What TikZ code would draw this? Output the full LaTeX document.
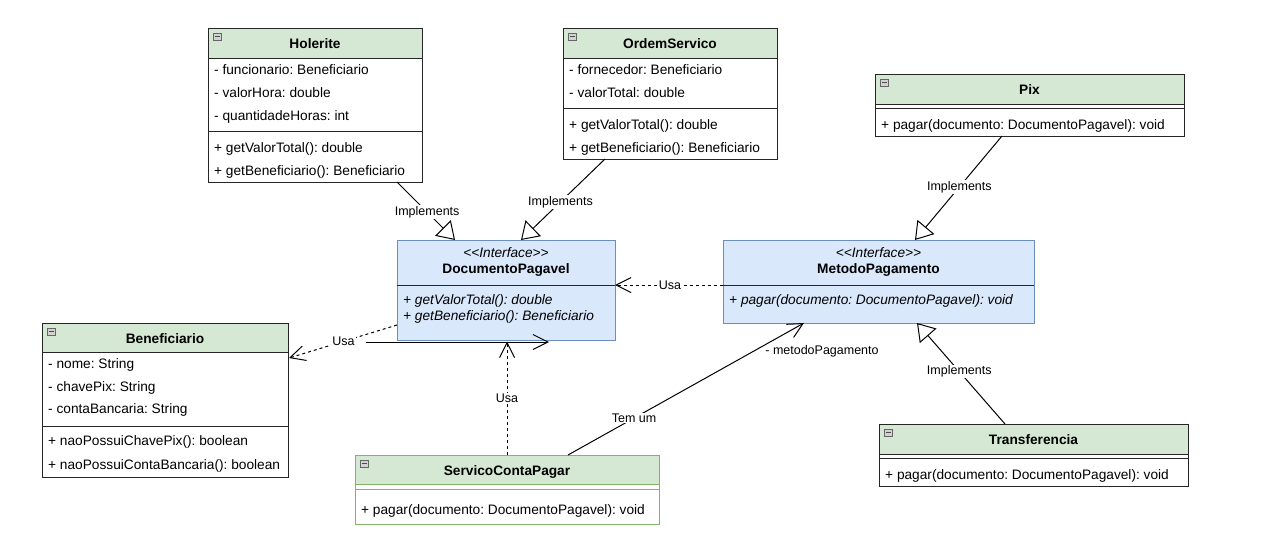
\documentclass[tikz,border=0pt]{standalone}
\usepackage{fontspec}
\setmainfont{Liberation Sans}
\usetikzlibrary{arrows.meta,calc}
\definecolor{hdrgreen}{HTML}{D5E8D4}
\definecolor{grnborder}{HTML}{82B366}
\definecolor{ifblue}{HTML}{DAE8FC}
\definecolor{ifborder}{HTML}{6C8EBF}
\newcommand{\colicon}[2]{%
  \draw[draw=gray!80!black, fill=gray!35, line width=0.8pt] (#1+5,#2+5) rectangle (#1+13.5,#2+12.5);
  \draw[gray!60!black, line width=1pt] (#1+6.5,#2+8.75) -- (#1+12,#2+8.75);}
\frenchspacing
\begin{document}
\begin{tikzpicture}[x=1pt,y=-1pt,
 box/.style={draw=black!85, line width=1pt, inner sep=0pt, outer sep=0pt, anchor=north west},
 txt/.style={anchor=west, inner sep=0pt, text height=10pt, text depth=1pt, font=\fontsize{13.7}{16}\selectfont},
 itxt/.style={txt, font=\fontsize{13.7}{16}\selectfont\itshape},
 ttl/.style={anchor=center, inner sep=0pt, text height=10pt, text depth=1pt, font=\fontsize{13.7}{16}\selectfont\bfseries},
 stereo/.style={anchor=center, inner sep=0pt, text height=10pt, text depth=1pt, font=\fontsize{13.7}{16}\selectfont\itshape},
 lbl/.style={fill=white, inner sep=1pt, font=\fontsize{12.5}{15}\selectfont},
 plainlbl/.style={inner sep=1pt, font=\fontsize{12.5}{15}\selectfont},
 sepline/.style={draw=black!85, line width=1pt},
 impl/.style={draw=black, line width=1pt, -{Triangle[open, length=17pt, width=22pt]}},
 usa/.style={draw=black, line width=1pt, dash pattern=on 3pt off 3pt, -{Straight Barb[length=15pt,width=15pt]}},
 assoc/.style={draw=black, line width=1pt, -{Straight Barb[length=15pt,width=15pt]}},
]
\fill[white] (0,0) rectangle (1270,547);
\useasboundingbox (0,0) rectangle (1270,547);

% ---------- Holerite ----------
\fill[hdrgreen] (208,28) rectangle (422,58);
\draw[sepline] (208,58) -- (422,58);
\draw[sepline] (208,131) -- (422,131);
\node[box, minimum width=214pt, minimum height=154pt] (hol) at (208,28) {};
\colicon{208}{28}
\node[ttl] (holT) at (315,43.5) {Holerite};
\node[txt] (hol1) at (214,69.5) {- funcionario: Beneficiario};
\node[txt] (hol2) at (214,92.5) {- valorHora: double};
\node[txt] (hol3) at (214,115.5) {- quantidadeHoras: int};
\node[txt] (hol4) at (214,147.5) {+ getValorTotal(): double};
\node[txt] (hol5) at (214,170.5) {+ getBeneficiario(): Beneficiario};

% ---------- OrdemServico ----------
\fill[hdrgreen] (563,28) rectangle (777,58);
\draw[sepline] (563,58) -- (777,58);
\draw[sepline] (563,108) -- (777,108);
\node[box, minimum width=214pt, minimum height=131pt] (os) at (563,28) {};
\colicon{563}{28}
\node[ttl] (osT) at (670,43.5) {OrdemServico};
\node[txt] (os1) at (569,69.5) {- fornecedor: Beneficiario};
\node[txt] (os2) at (569,92.5) {- valorTotal: double};
\node[txt] (os3) at (569,124.5) {+ getValorTotal(): double};
\node[txt] (os4) at (569,147.5) {+ getBeneficiario(): Beneficiario};

% ---------- Pix ----------
\fill[hdrgreen] (875,74) rectangle (1184,104);
\draw[sepline] (875,104) -- (1184,104);
\draw[sepline] (875,108) -- (1184,108);
\node[box, minimum width=309pt, minimum height=62pt] (pix) at (875,74) {};
\colicon{875}{74}
\node[ttl] (pixT) at (1029.5,89.5) {Pix};
\node[txt] (pix1) at (881,124.5) {+ pagar(documento: DocumentoPagavel): void};

% ---------- DocumentoPagavel ----------
\node[box, draw=ifborder, fill=ifblue, minimum width=218pt, minimum height=100pt] (dp) at (397,240) {};
\draw[sepline] (397,285) -- (615,285);
\node[stereo] (dpS) at (506,252.5) {<{}<Interface>{}>};
\node[ttl] (dpT) at (506,268.5) {DocumentoPagavel};
\node[itxt] (dp1) at (403,300) {+ getValorTotal(): double};
\node[itxt] (dp2) at (403,316) {+ getBeneficiario(): Beneficiario};

% ---------- MetodoPagamento ----------
\node[box, draw=ifborder, fill=ifblue, minimum width=311pt, minimum height=83pt] (mp) at (723,240) {};
\draw[sepline] (723,285) -- (1034,285);
\node[stereo] (mpS) at (878.5,252.5) {<{}<Interface>{}>};
\node[ttl] (mpT) at (878.5,268.5) {MetodoPagamento};
\node[itxt] (mp1) at (729,300) {+ pagar(documento: DocumentoPagavel): void};

% ---------- Beneficiario ----------
\fill[hdrgreen] (42,323) rectangle (288,352);
\draw[sepline] (42,352) -- (288,352);
\draw[sepline] (42,426) -- (288,426);
\node[box, minimum width=246pt, minimum height=154pt] (ben) at (42,323) {};
\colicon{42}{323}
\node[ttl] (benT) at (165,338.5) {Beneficiario};
\node[txt] (ben1) at (48,363.5) {- nome: String};
\node[txt] (ben2) at (48,386.5) {- chavePix: String};
\node[txt] (ben3) at (48,409) {- contaBancaria: String};
\node[txt] (ben4) at (48,441) {+ naoPossuiChavePix(): boolean};
\node[txt] (ben5) at (48,464.5) {+ naoPossuiContaBancaria(): boolean};

% ---------- ServicoContaPagar ----------
\fill[hdrgreen] (355,455) rectangle (659,484);
\draw[draw=grnborder, line width=1pt] (355,484) -- (659,484);
\draw[draw=grnborder, line width=1pt] (355,489) -- (659,489);
\node[box, draw=grnborder, minimum width=304pt, minimum height=69pt] (scp) at (355,455) {};
\colicon{355}{455}
\node[ttl] (scpT) at (507,470.5) {ServicoContaPagar};
\node[txt] (scp1) at (361,509.5) {+ pagar(documento: DocumentoPagavel): void};

% ---------- Transferencia ----------
\fill[hdrgreen] (879,424) rectangle (1188,454);
\draw[sepline] (879,454) -- (1188,454);
\draw[sepline] (879,458) -- (1188,458);
\node[box, minimum width=309pt, minimum height=62pt] (tr) at (879,424) {};
\colicon{879}{424}
\node[ttl] (trT) at (1033.5,439.5) {Transferencia};
\node[txt] (tr1) at (885,474.5) {+ pagar(documento: DocumentoPagavel): void};

% ---------- Connectors ----------
\draw[impl] ($(hol.south west)+(189,0)$) -- ($(dp.north west)+(58,0)$)
  node[lbl, pos=0.52] {Implements};
\draw[impl] ($(os.south west)+(42,0)$) -- ($(dp.north west)+(124,0)$)
  node[lbl, pos=0.53] {Implements};
\draw[impl] ($(pix.south west)+(127,0)$) -- ($(mp.north west)+(192,0)$)
  node[lbl, pos=0.49] {Implements};
\draw[impl] ($(tr.north west)+(126,0)$) -- ($(mp.south west)+(194,0)$)
  node[lbl, pos=0.52] {Implements};

\draw[usa] ($(mp.north west)+(0,45)$) -- ($(dp.north east)+(0,45)$)
  node[lbl, pos=0.49] {Usa};
\draw[usa] ($(dp.south west)+(0,-15)$) -- ($(ben.north east)+(1,35)$)
  node[lbl, pos=0.495] {Usa};
\draw[usa] ($(scp.north west)+(152,0)$) -- ($(dp.south west)+(110,1.5)$)
  node[lbl, pos=0.5] {Usa};

\coordinate (fa) at (366,342);
\coordinate (fb) at (549,342);
\draw[assoc] (fa) -- (fb);

\draw[assoc] ($(scp.north west)+(213,0)$) -- ($(mp.south west)+(81,0)$)
  node[lbl, pos=0.28] {Tem um}
  node[plainlbl, pos=1, xshift=18pt, yshift=-28pt] {- metodoPagamento};
\end{tikzpicture}
\end{document}
